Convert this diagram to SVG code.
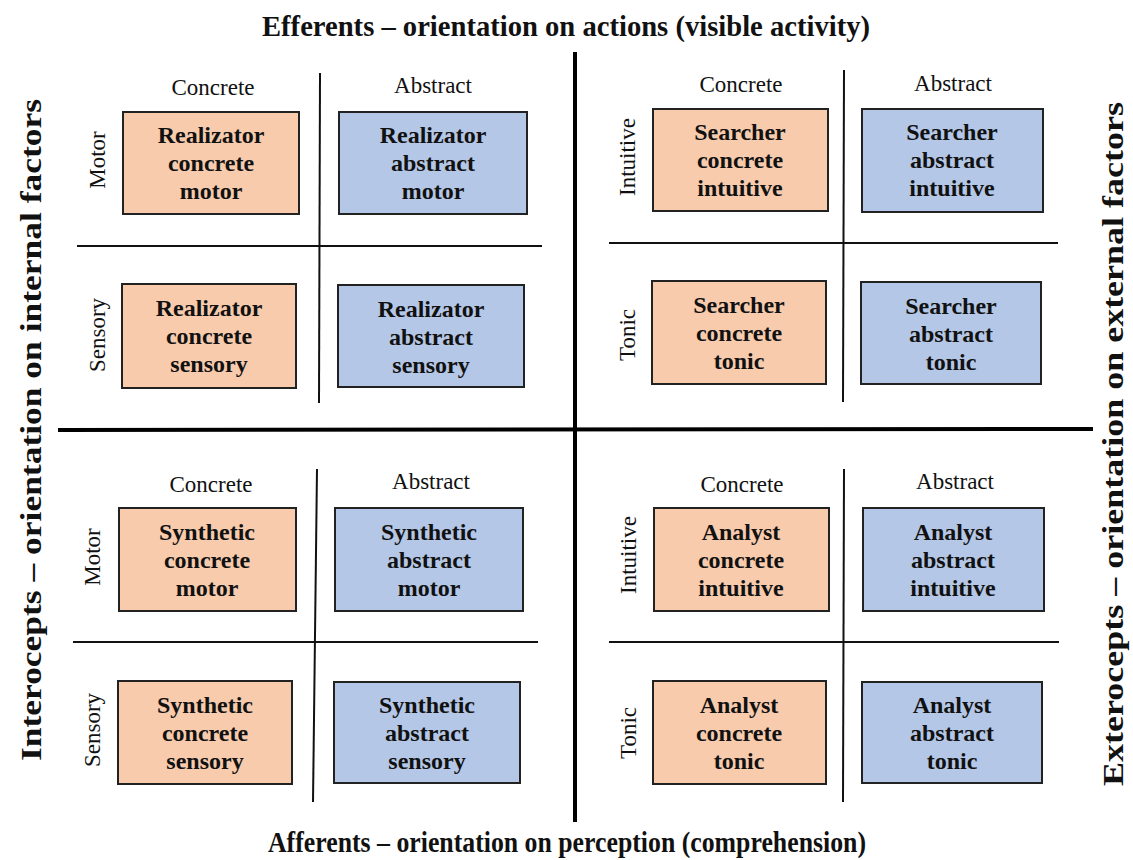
<svg xmlns="http://www.w3.org/2000/svg" width="1133" height="860" viewBox="0 0 1133 860">
<style>
.t{font-family:"Liberation Serif","Times New Roman",serif;fill:#111}
.title{font-size:29px;font-weight:bold;text-anchor:middle}
.lbl{font-size:23px;text-anchor:middle}
.bt{font-size:24px;font-weight:bold;text-anchor:middle}
.c{fill:#F8CBAD;stroke:#222;stroke-width:2}
.a{fill:#B4C7E7;stroke:#222;stroke-width:2}
.thin{stroke:#111;stroke-width:2;fill:none}
.thick{stroke:#000;stroke-width:4;fill:none}
</style>
<rect width="1133" height="860" fill="#fff"/>
<g id="titles">
<text class="t title" x="566" y="36" textLength="608" lengthAdjust="spacingAndGlyphs">Efferents – orientation on actions (visible activity)</text>
<text class="t title" x="567" y="852" textLength="598" lengthAdjust="spacingAndGlyphs">Afferents – orientation on perception (comprehension)</text>
<text class="t title" transform="translate(41,430) rotate(-90)" textLength="662" lengthAdjust="spacingAndGlyphs">Interocepts – orientation on internal factors</text>
<text class="t title" transform="translate(1123,444) rotate(-90)" textLength="684" lengthAdjust="spacingAndGlyphs">Exterocepts – orientation on external factors</text>
</g>
<g id="connectors">
<line class="thick" x1="575" y1="52" x2="575" y2="822"/>
<line class="thick" x1="58" y1="430" x2="1093" y2="429"/>
<line class="thin" x1="320" y1="73" x2="319" y2="403"/>
<line class="thin" x1="77" y1="246" x2="542" y2="246"/>
<line class="thin" x1="844" y1="70" x2="843" y2="402"/>
<line class="thin" x1="609" y1="243" x2="1058" y2="243"/>
<line class="thin" x1="317" y1="469" x2="313" y2="802"/>
<line class="thin" x1="73" y1="642" x2="538" y2="642"/>
<line class="thin" x1="844" y1="469" x2="843" y2="802"/>
<line class="thin" x1="609" y1="642" x2="1059" y2="642"/>
</g>
<g id="axis-labels">
<text class="t lbl" x="213" y="95">Concrete</text>
<text class="t lbl" x="433" y="93">Abstract</text>
<text class="t lbl" x="741" y="92">Concrete</text>
<text class="t lbl" x="953" y="91">Abstract</text>
<text class="t lbl" x="211" y="492">Concrete</text>
<text class="t lbl" x="431" y="489">Abstract</text>
<text class="t lbl" x="742" y="492">Concrete</text>
<text class="t lbl" x="955" y="489">Abstract</text>
<text class="t lbl" transform="translate(105,160) rotate(-90)">Motor</text>
<text class="t lbl" transform="translate(105,335) rotate(-90)">Sensory</text>
<text class="t lbl" transform="translate(635,157) rotate(-90)">Intuitive</text>
<text class="t lbl" transform="translate(635,335) rotate(-90)">Tonic</text>
<text class="t lbl" transform="translate(100,557) rotate(-90)">Motor</text>
<text class="t lbl" transform="translate(100,730) rotate(-90)">Sensory</text>
<text class="t lbl" transform="translate(636,555) rotate(-90)">Intuitive</text>
<text class="t lbl" transform="translate(636,733) rotate(-90)">Tonic</text>
</g>
<g id="rcm"><rect class="c" x="123" y="112" width="176" height="102"/><text class="t bt" x="211" y="143">Realizator<tspan x="211" dy="28">concrete</tspan><tspan x="211" dy="28">motor</tspan></text></g>
<g id="ram"><rect class="a" x="339" y="112" width="188" height="102"/><text class="t bt" x="433" y="143">Realizator<tspan x="433" dy="28">abstract</tspan><tspan x="433" dy="28">motor</tspan></text></g>
<g id="rcs"><rect class="c" x="122" y="284" width="174" height="104"/><text class="t bt" x="209" y="316">Realizator<tspan x="209" dy="28">concrete</tspan><tspan x="209" dy="28">sensory</tspan></text></g>
<g id="ras"><rect class="a" x="338" y="285" width="186" height="102"/><text class="t bt" x="431" y="317">Realizator<tspan x="431" dy="28">abstract</tspan><tspan x="431" dy="28">sensory</tspan></text></g>
<g id="sci"><rect class="c" x="653" y="109" width="175" height="102"/><text class="t bt" x="740" y="140">Searcher<tspan x="740" dy="28">concrete</tspan><tspan x="740" dy="28">intuitive</tspan></text></g>
<g id="sai"><rect class="a" x="862" y="109" width="181" height="103"/><text class="t bt" x="952" y="140">Searcher<tspan x="952" dy="28">abstract</tspan><tspan x="952" dy="28">intuitive</tspan></text></g>
<g id="sct"><rect class="c" x="652" y="281" width="174" height="103"/><text class="t bt" x="739" y="313">Searcher<tspan x="739" dy="28">concrete</tspan><tspan x="739" dy="28">tonic</tspan></text></g>
<g id="sat"><rect class="a" x="861" y="282" width="180" height="102"/><text class="t bt" x="951" y="314">Searcher<tspan x="951" dy="28">abstract</tspan><tspan x="951" dy="28">tonic</tspan></text></g>
<g id="sycm"><rect class="c" x="119" y="508" width="177" height="103"/><text class="t bt" x="207" y="540">Synthetic<tspan x="207" dy="28">concrete</tspan><tspan x="207" dy="28">motor</tspan></text></g>
<g id="syam"><rect class="a" x="335" y="508" width="188" height="103"/><text class="t bt" x="429" y="540">Synthetic<tspan x="429" dy="28">abstract</tspan><tspan x="429" dy="28">motor</tspan></text></g>
<g id="sycs"><rect class="c" x="118" y="681" width="174" height="103"/><text class="t bt" x="205" y="713">Synthetic<tspan x="205" dy="28">concrete</tspan><tspan x="205" dy="28">sensory</tspan></text></g>
<g id="syas"><rect class="a" x="334" y="682" width="186" height="101"/><text class="t bt" x="427" y="713">Synthetic<tspan x="427" dy="28">abstract</tspan><tspan x="427" dy="28">sensory</tspan></text></g>
<g id="aci"><rect class="c" x="654" y="508" width="175" height="103"/><text class="t bt" x="741" y="540">Analyst<tspan x="741" dy="28">concrete</tspan><tspan x="741" dy="28">intuitive</tspan></text></g>
<g id="aai"><rect class="a" x="863" y="508" width="181" height="103"/><text class="t bt" x="953" y="540">Analyst<tspan x="953" dy="28">abstract</tspan><tspan x="953" dy="28">intuitive</tspan></text></g>
<g id="act"><rect class="c" x="653" y="681" width="173" height="103"/><text class="t bt" x="739" y="713">Analyst<tspan x="739" dy="28">concrete</tspan><tspan x="739" dy="28">tonic</tspan></text></g>
<g id="aat"><rect class="a" x="862" y="682" width="180" height="101"/><text class="t bt" x="952" y="713">Analyst<tspan x="952" dy="28">abstract</tspan><tspan x="952" dy="28">tonic</tspan></text></g>
</svg>
